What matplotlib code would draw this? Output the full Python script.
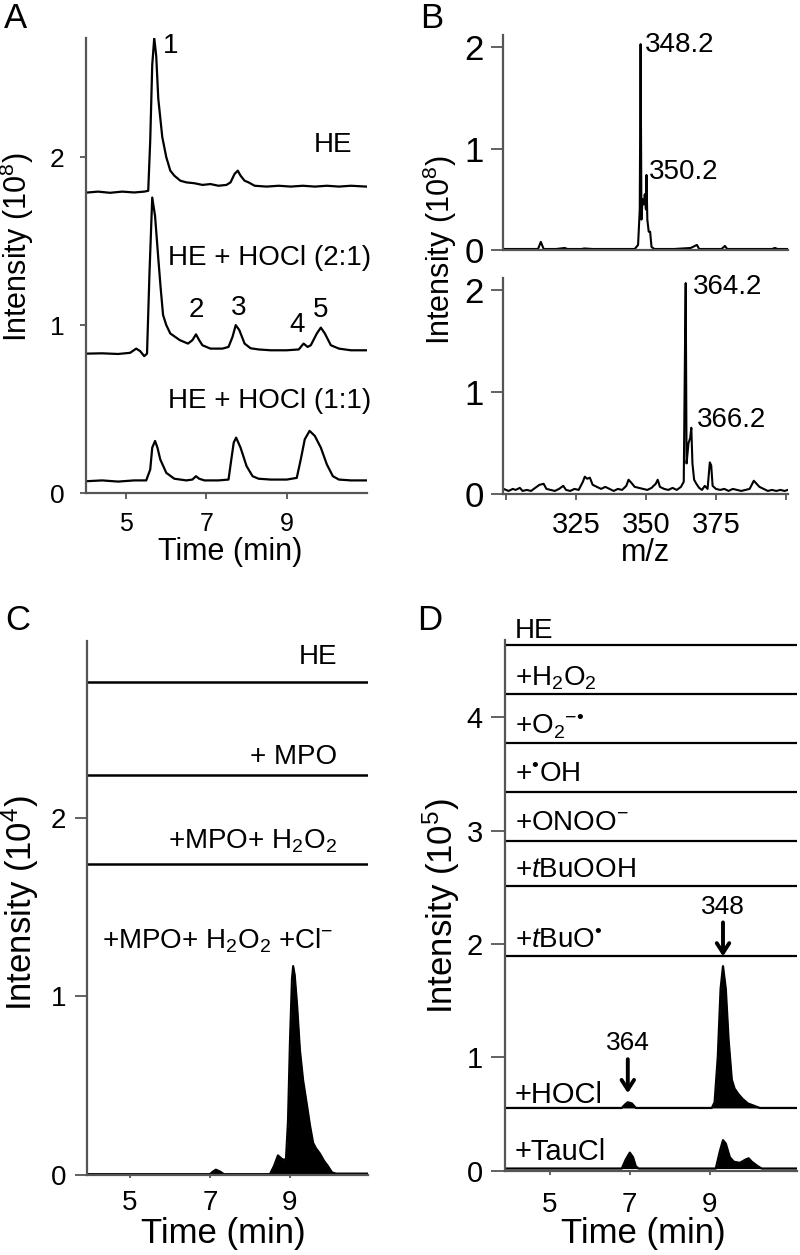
import matplotlib
matplotlib.use("Agg")
import matplotlib.pyplot as plt

plt.rcParams["font.family"] = ["Liberation Sans", "DejaVu Sans"]
plt.rcParams["mathtext.fontset"] = "custom"
plt.rcParams["mathtext.rm"] = "Liberation Sans"
plt.rcParams["mathtext.it"] = "Liberation Sans:italic"
plt.rcParams["mathtext.bf"] = "Liberation Sans:bold"

# ================= DATA =================
# Panel A: HPLC traces (time in min, intensity in 1e8, offsets already included)
a_he_t = [4.05, 4.3, 4.6, 4.9, 5.2, 5.45, 5.55, 5.6, 5.65, 5.7, 5.75, 5.8, 5.9, 6.0,
          6.1, 6.2, 6.35, 6.5, 6.7, 6.9, 7.1, 7.3, 7.5, 7.6, 7.7, 7.78, 7.85, 7.95,
          8.05, 8.2, 8.5, 8.8, 9.1, 9.4, 9.7, 10.0, 10.3, 10.6, 10.98]
a_he_y = [1.79, 1.795, 1.788, 1.795, 1.79, 1.795, 1.80, 2.1, 2.55, 2.71, 2.6, 2.35, 2.12, 2.0,
          1.92, 1.89, 1.86, 1.85, 1.845, 1.835, 1.84, 1.83, 1.835, 1.85, 1.90, 1.92, 1.89, 1.86,
          1.85, 1.83, 1.825, 1.83, 1.825, 1.83, 1.825, 1.83, 1.825, 1.83, 1.825]

a_21_t = [4.0, 4.4, 4.8, 5.1, 5.25, 5.35, 5.45, 5.52, 5.58, 5.65, 5.72, 5.8, 5.86, 5.92,
          6.0, 6.1, 6.34, 6.54, 6.65, 6.74, 6.82, 6.9, 7.1, 7.4, 7.55, 7.65, 7.73, 7.82,
          7.95, 8.1, 8.3, 8.6, 9.0, 9.3, 9.42, 9.52, 9.6, 9.75, 9.85, 9.95, 10.1, 10.3,
          10.6, 10.98]
a_21_y = [0.83, 0.832, 0.828, 0.835, 0.86, 0.845, 0.815, 0.83, 1.3, 1.76, 1.65, 1.4, 1.22, 1.06,
          1.0, 0.95, 0.91, 0.89, 0.91, 0.945, 0.91, 0.88, 0.86, 0.86, 0.87, 0.93, 1.0, 0.97,
          0.89, 0.862, 0.855, 0.85, 0.85, 0.855, 0.89, 0.87, 0.88, 0.95, 0.985, 0.95, 0.88, 0.86,
          0.85, 0.85]

a_11_t = [4.0, 4.4, 4.8, 5.2, 5.5, 5.6, 5.65, 5.72, 5.78, 5.85, 6.0, 6.2, 6.5, 6.65, 6.74,
          6.82, 6.95, 7.3, 7.55, 7.62, 7.68, 7.74, 7.85, 8.0, 8.15, 8.3, 8.6, 9.0, 9.25,
          9.35, 9.45, 9.57, 9.7, 9.85, 10.0, 10.15, 10.3, 10.6, 10.98]
a_11_y = [0.07, 0.075, 0.068, 0.075, 0.075, 0.14, 0.27, 0.31, 0.27, 0.2, 0.12, 0.085, 0.075, 0.08, 0.10,
          0.085, 0.075, 0.075, 0.08, 0.2, 0.3, 0.33, 0.27, 0.16, 0.10, 0.085, 0.08, 0.08, 0.09,
          0.2, 0.32, 0.37, 0.34, 0.27, 0.17, 0.10, 0.08, 0.075, 0.075]

a_labels = ["HE", "HE + HOCl (2:1)", "HE + HOCl (1:1)"]
a_peak_ids = ["1", "2", "3", "4", "5"]
a_peak_t = [6.1, 6.74, 7.8, 9.27, 9.84]
a_peak_y = [2.66, 1.09, 1.10, 1.0, 1.09]

# Panel B: mass spectra (m/z, intensity in 1e8)
b_top_mz = [299.2, 305, 311.5, 312.5, 313.5, 318, 321, 322, 327, 328, 331, 340, 346, 347.2,
            347.8, 348.1, 348.4, 348.8, 349.2, 349.6, 350.0, 350.2, 350.5, 351.0, 351.5, 352.0,
            353, 360, 366, 368.2, 369, 377, 378.2, 379, 385, 395, 396, 397, 400.6]
b_top_int = [0.01, 0.01, 0.01, 0.08, 0.01, 0.01, 0.02, 0.01, 0.01, 0.015, 0.01, 0.01, 0.01, 0.05,
             0.4, 2.03, 0.3, 0.5, 0.45, 0.55, 0.4, 0.74, 0.3, 0.18, 0.18, 0.03,
             0.01, 0.01, 0.02, 0.05, 0.01, 0.01, 0.04, 0.01, 0.01, 0.01, 0.02, 0.01, 0.01]

b_bot_mz = [299.2, 301, 302.5, 303.5, 305, 306, 307.5, 309, 310.5, 312, 313.5, 314.5, 316,
            317.5, 319, 320.5, 321.5, 323, 324.5, 326, 327.5, 328.2, 329, 330, 331, 332.5,
            334, 335.5, 337, 338.5, 340, 341.5, 343, 343.8, 344.8, 346, 347.5, 349, 350.5,
            352, 353.5, 354.2, 355, 356.5, 358, 359.5, 361, 362.5, 363.5, 364.0, 364.2,
            364.5, 365.2, 365.8, 366.2, 366.6, 367.2, 368, 369, 370, 371, 372, 372.8, 373.3,
            373.8, 375, 376.5, 378, 379.5, 381, 382.5, 384, 385.5, 387, 388.5, 389.5, 390.5,
            392, 393.5, 395, 396.5, 398, 399.5, 400.6]
b_bot_int = [0.05, 0.03, 0.05, 0.04, 0.06, 0.03, 0.04, 0.03, 0.06, 0.09, 0.10, 0.05, 0.04,
             0.03, 0.05, 0.08, 0.04, 0.03, 0.05, 0.04, 0.12, 0.17, 0.15, 0.16, 0.09, 0.07,
             0.05, 0.07, 0.05, 0.03, 0.05, 0.04, 0.08, 0.14, 0.11, 0.07, 0.06, 0.05, 0.04,
             0.06, 0.10, 0.14, 0.07, 0.05, 0.04, 0.06, 0.04, 0.07, 0.12, 1.6, 2.07,
             0.3, 0.5, 0.55, 0.65, 0.3, 0.14, 0.10, 0.06, 0.04, 0.08, 0.05, 0.31, 0.28,
             0.08, 0.05, 0.04, 0.05, 0.03, 0.05, 0.04, 0.03, 0.04, 0.05, 0.13, 0.10, 0.07,
             0.05, 0.03, 0.04, 0.03, 0.04, 0.03, 0.04]
b_top_ann = ["348.2", "350.2"]
b_top_ann_x = [349.6, 351.1]
b_top_ann_y = [2.02, 0.77]
b_bot_ann = ["364.2", "366.2"]
b_bot_ann_x = [366.6, 368.2]
b_bot_ann_y = [2.03, 0.73]

# Panel C: flat traces + chlorinated sample (intensity in 1e4)
c_labels = ["HE", "+ MPO", "+MPO+ H$_2$O$_2$", "+MPO+ H$_2$O$_2$ +Cl$^{-}$"]
c_offsets = [2.76, 2.24, 1.74, 0.0]
c_label_y = [2.90, 2.34, 1.87, 1.31]
c_flat_t = [3.93, 10.95]
c_flat_y = [0.0, 0.0]
c_cl_t = [3.93, 5.0, 7.0, 7.08, 7.15, 7.25, 7.35, 8.5, 8.6, 8.7, 8.8, 8.85, 8.9, 8.95, 9.0,
          9.05, 9.08, 9.12, 9.18, 9.25, 9.33, 9.42, 9.5, 9.58, 9.65, 9.75, 9.85, 9.95,
          10.05, 10.15, 10.95]
c_cl_y = [0.005, 0.005, 0.005, 0.02, 0.03, 0.02, 0.005, 0.005, 0.05, 0.11, 0.09, 0.085, 0.09, 0.3, 0.75,
          1.1, 1.17, 1.12, 0.95, 0.7, 0.53, 0.4, 0.28, 0.18, 0.15, 0.12, 0.08, 0.05,
          0.015, 0.008, 0.008]

# Panel D: traces for each oxidant (intensity in 1e5)
d_labels = ["HE", "+H$_2$O$_2$", "+O$_2$$^{-•}$", "+$^{•}$OH", "+ONOO$^{-}$",
            "+$t$BuOOH", "+$t$BuO$^{•}$", "+HOCl", "+TauCl"]
d_offsets = [4.64, 4.20, 3.77, 3.34, 2.91, 2.51, 1.89, 0.554, 0.02]
d_label_y = [4.76, 4.34, 3.91, 3.49, 3.07, 2.65, 2.03, 0.67, 0.17]
d_flat_t = [3.88, 11.18]
d_flat_y = [0.0, 0.0]
d_hocl_t = [3.88, 6.8, 6.88, 6.95, 7.05, 7.15, 9.05, 9.12, 9.2, 9.27, 9.33, 9.4, 9.47,
            9.55, 9.62, 9.72, 9.82, 9.95, 10.1, 10.25, 11.18]
d_hocl_y = [0.0, 0.0, 0.03, 0.05, 0.04, 0.0, 0.0, 0.05, 0.45, 1.05, 1.25, 1.05, 0.6,
            0.25, 0.17, 0.12, 0.08, 0.04, 0.02, 0.0, 0.0]
d_taucl_t = [3.88, 6.8, 6.9, 7.0, 7.08, 7.15, 7.22, 9.15, 9.25, 9.33, 9.4, 9.5, 9.6, 9.75,
             9.9, 9.97, 10.05, 10.2, 10.3, 11.18]
d_taucl_y = [0.0, 0.0, 0.08, 0.14, 0.1, 0.02, 0.0, 0.0, 0.15, 0.25, 0.22, 0.1, 0.06, 0.05,
             0.08, 0.09, 0.06, 0.02, 0.0, 0.0]
d_arrow_t = [9.33, 6.95]
d_arrow_txt = ["348", "364"]


# ================= HELPERS =================
SPINE = "#555555"


def style_axes(ax, ytick_size, xtick_size, ylen, ypad, xlen, xpad):
    """Keep only left/bottom spines and set tick look."""
    for side in ("top", "right"):
        ax.spines[side].set_visible(False)
    for side in ("left", "bottom"):
        ax.spines[side].set_color(SPINE)
        ax.spines[side].set_linewidth(1.6)
    ax.tick_params(axis="y", direction="out", length=ylen, width=1.3, color=SPINE,
                   labelsize=ytick_size, pad=ypad)
    ax.tick_params(axis="x", direction="out", length=xlen, width=1.3, color=SPINE,
                   labelsize=xtick_size, pad=xpad)


fig = plt.figure(figsize=(8, 12.55), dpi=100)
W, H = 800.0, 1255.0


def add_ax(x0, y_top, x1, y_bot):
    """Add axes from pixel box."""
    return fig.add_axes([x0 / W, 1 - y_bot / H, (x1 - x0) / W, (y_bot - y_top) / H])


# ================= PANEL A =================
axA = add_ax(86, 38, 367, 493)
axA.plot(a_he_t, a_he_y, color="black", lw=1.6)
axA.plot(a_21_t, a_21_y, color="black", lw=1.6)
axA.plot(a_11_t, a_11_y, color="black", lw=1.6)
axA.set_xlim(4.0, 11.0)
axA.set_ylim(0, 2.71)
axA.set_xticks([5, 7, 9])
axA.set_yticks([0, 1, 2])
style_axes(axA, 19, 18, 4.5, 11, 4, 10)
axA.text(10.64, 2.07, a_labels[0], fontsize=20, ha="right", va="center")
axA.text(11.1, 1.40, a_labels[1], fontsize=20, ha="right", va="center", clip_on=False)
axA.text(11.1, 0.55, a_labels[2], fontsize=20, ha="right", va="center", clip_on=False)
for lab, t, y in zip(a_peak_ids, a_peak_t, a_peak_y):
    axA.text(t, y, lab, fontsize=20, ha="center", va="center")

# ================= PANEL B =================
axB1 = add_ax(503, 35, 788, 250)
axB1.plot(b_top_mz, b_top_int, color="black", lw=1.5)
axB1.set_xlim(299.0, 400.7)
axB1.set_ylim(0, 2.12)
axB1.set_yticks([0, 1, 2])
axB1.set_xticks([])
style_axes(axB1, 25, 20, 9, 5, 0, 0)
for lab, x, y in zip(b_top_ann, b_top_ann_x, b_top_ann_y):
    axB1.text(x, y, lab, fontsize=20, ha="left", va="center")

axB2 = add_ax(503, 278, 788, 494)
axB2.plot(b_bot_mz, b_bot_int, color="black", lw=1.5)
axB2.set_xlim(299.0, 400.7)
axB2.set_ylim(0, 2.12)
axB2.set_yticks([0, 1, 2])
axB2.set_xticks([300, 325, 350, 375, 400])
axB2.set_xticklabels(["", "325", "350", "375", ""])
style_axes(axB2, 25, 21, 9, 5, 4, 8)
for lab, x, y in zip(b_bot_ann, b_bot_ann_x, b_bot_ann_y):
    axB2.text(x, y, lab, fontsize=20, ha="left", va="center")

# ================= PANEL C =================
axC = add_ax(87, 641, 368, 1175)
for off in c_offsets[:3]:
    axC.plot(c_flat_t, [off + v for v in c_flat_y], color="black", lw=1.8)
c_sig = [c_offsets[3] + v for v in c_cl_y]
axC.fill_between(c_cl_t, c_offsets[3], c_sig, color="black", lw=0)
axC.plot(c_cl_t, c_sig, color="black", lw=1.5)
axC.set_xlim(3.93, 10.95)
axC.set_ylim(0, 2.99)
axC.set_xticks([5, 7, 9])
axC.set_yticks([0, 1, 2])
style_axes(axC, 20, 20, 9, 6, 2, 9)
for i, (lab, y) in enumerate(zip(c_labels, c_label_y)):
    xr = 10.08 if i == 3 else 10.18
    axC.text(xr, y, lab, fontsize=20, ha="right", va="center")

# ================= PANEL D =================
axD = add_ax(505, 640, 797, 1170.8)
for off in d_offsets[:7]:
    axD.plot(d_flat_t, [off + v for v in d_flat_y], color="black", lw=1.6)
for t, vals, off in ((d_hocl_t, d_hocl_y, d_offsets[7]), (d_taucl_t, d_taucl_y, d_offsets[8])):
    sig = [off + v for v in vals]
    axD.fill_between(t, off, sig, color="black", lw=0)
    axD.plot(t, sig, color="black", lw=1.6)
axD.set_xlim(3.88, 11.18)
axD.set_ylim(0, 4.68)
axD.set_xticks([5, 7, 9])
axD.set_yticks([0, 1, 2, 3, 4])
style_axes(axD, 21, 20, 10, 6, 3, 12)
for i, (lab, y) in enumerate(zip(d_labels, d_label_y)):
    axD.text(4.12, y, lab, fontsize=21 if i >= 7 else 20, ha="left", va="center",
             clip_on=False)

# arrows to peaks
arrow_tips = [d_offsets[6], d_offsets[7] + 0.13]
for t, txt, tip in zip(d_arrow_t, d_arrow_txt, arrow_tips):
    axD.annotate("", xy=(t, tip), xytext=(t, tip + 0.30),
                 arrowprops=dict(arrowstyle="->,head_length=0.7,head_width=0.45",
                                 lw=2.8, color="black", shrinkA=0, shrinkB=0))
    axD.text(t, tip + 0.44, txt, fontsize=19, ha="center", va="center")

# ================= FIGURE TEXT =================
fig.text(15 / W, 1 - 18 / H, "A", fontsize=25, ha="center", va="center")
fig.text(432 / W, 1 - 18 / H, "B", fontsize=25, ha="center", va="center")
fig.text(18 / W, 1 - 621 / H, "C", fontsize=25, ha="center", va="center")
fig.text(430 / W, 1 - 621 / H, "D", fontsize=25, ha="center", va="center")

fig.text(17 / W, 1 - 247 / H, "Intensity (10$^8$)", fontsize=22, rotation=90,
         ha="center", va="center")
fig.text(440 / W, 1 - 250 / H, "Intensity (10$^8$)", fontsize=22, rotation=90,
         ha="center", va="center")
fig.text(20 / W, 1 - 903 / H, "Intensity (10$^4$)", fontsize=25, rotation=90,
         ha="center", va="center")
fig.text(441 / W, 1 - 906 / H, "Intensity (10$^5$)", fontsize=25, rotation=90,
         ha="center", va="center")

fig.text(230 / W, 1 - 552 / H, "Time (min)", fontsize=22, ha="center", va="center")
fig.text(646 / W, 1 - 553 / H, "m/z", fontsize=22, ha="center", va="center")
fig.text(223 / W, 1 - 1233 / H, "Time (min)", fontsize=25, ha="center", va="center")
fig.text(643 / W, 1 - 1233 / H, "Time (min)", fontsize=25, ha="center", va="center")

fig.savefig("out.png", dpi=100)
